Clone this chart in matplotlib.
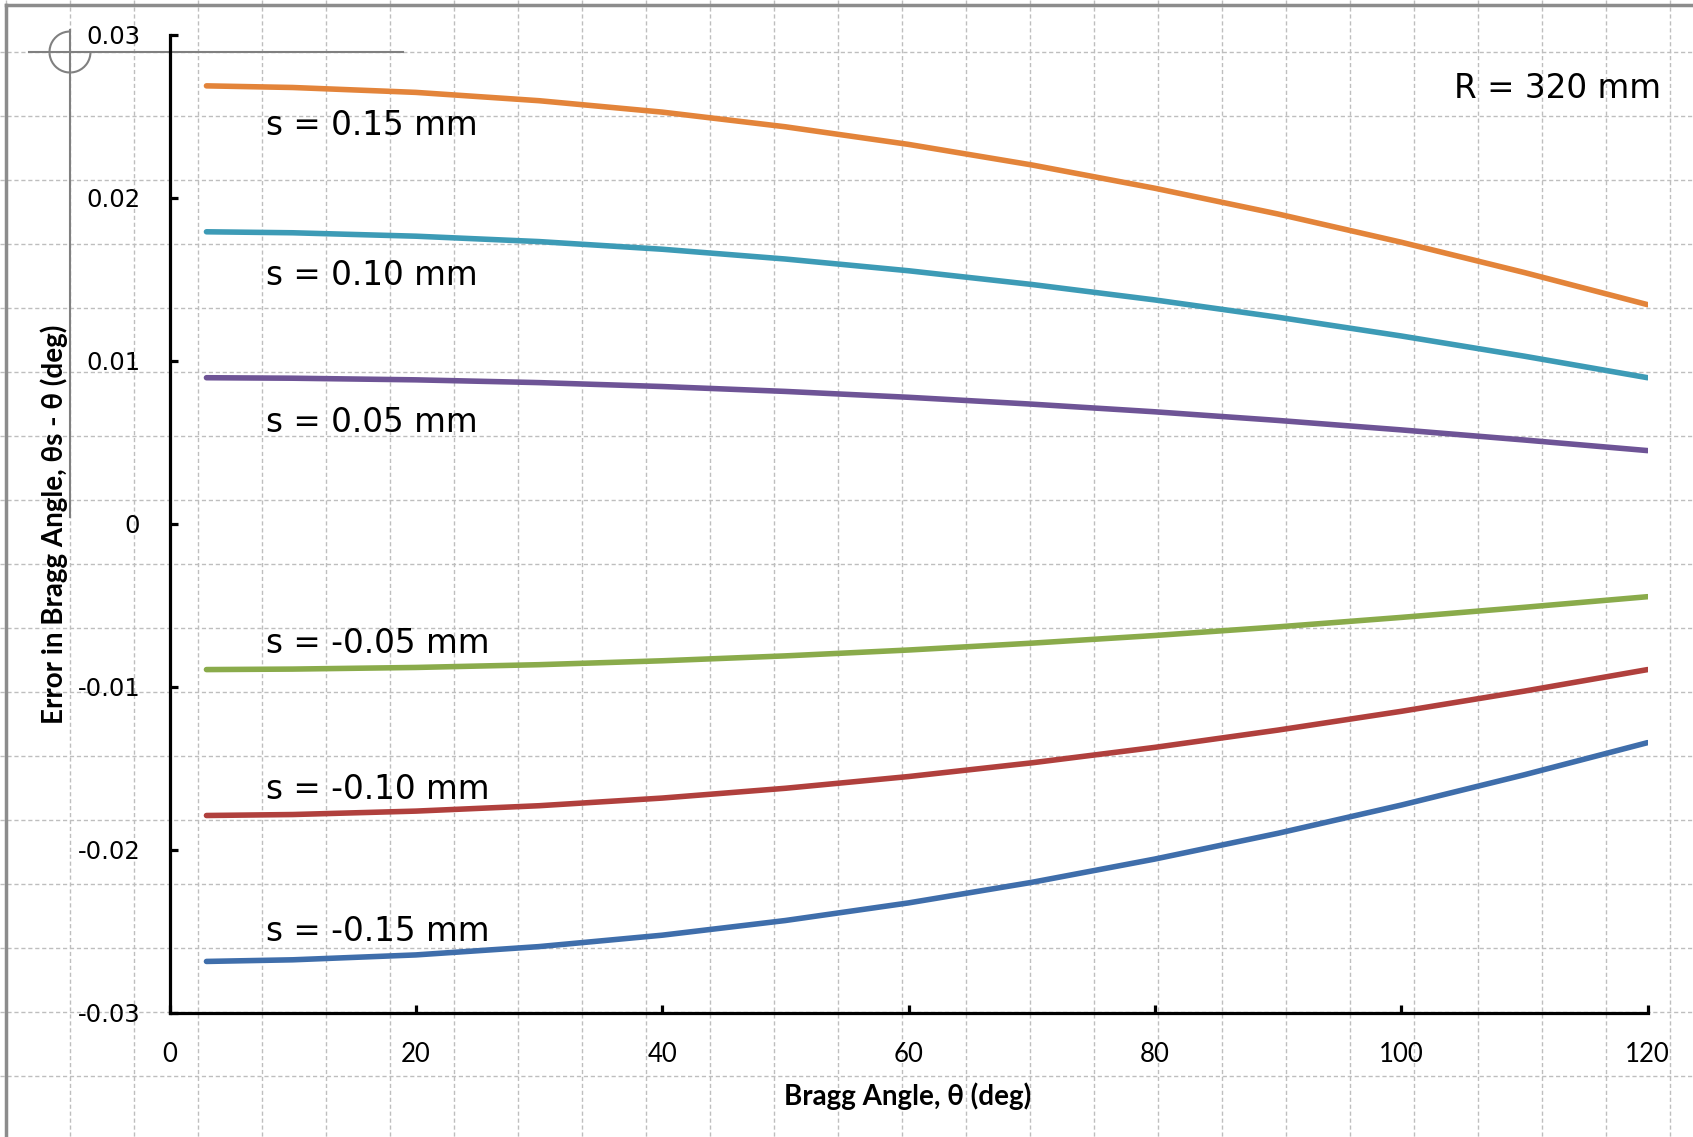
import matplotlib
matplotlib.use("Agg")
import matplotlib.pyplot as plt
from matplotlib.patches import Arc
import numpy as np

# Bragg angle (deg) and error in Bragg angle (deg) for each offset s
theta = [3, 10, 20, 30, 40, 50, 60, 70, 80, 90, 100, 110, 120]
err_p015 = [0.02685, 0.02675, 0.02645, 0.02594, 0.02524, 0.02434, 0.02326,
            0.02200, 0.02057, 0.01899, 0.01726, 0.01540, 0.01343]
err_p010 = [0.01790, 0.01784, 0.01763, 0.01730, 0.01683, 0.01623, 0.01551,
            0.01467, 0.01372, 0.01266, 0.01151, 0.01027, 0.00895]
err_p005 = [0.00895, 0.00892, 0.00882, 0.00865, 0.00841, 0.00811, 0.00775,
            0.00733, 0.00686, 0.00633, 0.00575, 0.00513, 0.00448]
err_m005 = [-0.00895, -0.00892, -0.00882, -0.00865, -0.00841, -0.00811, -0.00775,
            -0.00733, -0.00686, -0.00633, -0.00575, -0.00513, -0.00448]
err_m010 = [-0.01790, -0.01784, -0.01763, -0.01730, -0.01683, -0.01623, -0.01551,
            -0.01467, -0.01372, -0.01266, -0.01151, -0.01027, -0.00895]
err_m015 = [-0.02685, -0.02675, -0.02645, -0.02594, -0.02524, -0.02434, -0.02326,
            -0.02200, -0.02057, -0.01899, -0.01726, -0.01540, -0.01343]

labels = ["s = 0.15 mm", "s = 0.10 mm", "s = 0.05 mm",
          "s = -0.05 mm", "s = -0.10 mm", "s = -0.15 mm"]
label_y = [0.02444, 0.01523, 0.00622, -0.00735, -0.01629, -0.02503]
x_ticks = [0, 20, 40, 60, 80, 100, 120]
y_ticks = [-0.03, -0.02, -0.01, 0, 0.01, 0.02, 0.03]
y_ticklabels = ["-0.03", "-0.02", "-0.01", "0", "0.01", "0.02", "0.03"]

series = [err_p015, err_p010, err_p005, err_m005, err_m010, err_m015]
colors = ["#E3843A", "#3D9BB6", "#6E5496", "#8AAB4B", "#B0403D", "#3F6EAB"]

W, H = 1693, 1137
fig = plt.figure(figsize=(W / 100, H / 100), dpi=100)

# sheet background: dashed cell grid, border and the little crosshair
bg = fig.add_axes([0, 0, 1, 1], zorder=0)
bg.set_xlim(0, W)
bg.set_ylim(H, 0)
bg.axis("off")
for gx in np.arange(70 - 64, W, 64):
    bg.plot([gx, gx], [0, H], color="#BEBEBE", lw=1, ls=(0, (3, 2)))
for gy in np.arange(52, H, 64):
    bg.plot([0, W], [gy, gy], color="#BEBEBE", lw=1, ls=(0, (3, 2)))
bg.plot([6, 6], [5, H], color="#8C8C8C", lw=2.5)
bg.plot([6, W], [5, 5], color="#8C8C8C", lw=2.5)
bg.plot([29, 403], [52, 52], color="#808080", lw=1.5)
bg.plot([70, 70], [30, 517], color="#808080", lw=1.5)
bg.add_patch(Arc((70, 52), 41, 41, theta1=0, theta2=270, color="#808080", lw=1.5))

ax = fig.add_axes([169.5 / W, 1 - 1012.8 / H, (1647.6 - 169.5) / W, (1012.8 - 34.5) / H],
                  zorder=1)
ax.patch.set_alpha(0)

for y, c in zip(series, colors):
    ax.plot(theta, y, color=c, lw=4, solid_capstyle="round")

for lab, ly in zip(labels, label_y):
    ax.text(7.8, ly, lab, fontsize=23.5, family="DejaVu Sans", va="center", ha="left")

ax.text(1.009, 0.945, "R = 320 mm", transform=ax.transAxes, fontsize=23.5,
        family="DejaVu Sans", ha="right", va="center")

ax.set_xlim(0, 120)
ax.set_ylim(-0.03, 0.03)
ax.set_xticks(x_ticks)
ax.set_xticklabels([str(t) for t in x_ticks], family="Lato", fontsize=18.5)
ax.set_yticks(y_ticks)
ax.set_yticklabels(y_ticklabels, family="DejaVu Sans", fontsize=17.5)

for side in ["top", "right"]:
    ax.spines[side].set_visible(False)
for side in ["left", "bottom"]:
    ax.spines[side].set_linewidth(2.3)
ax.tick_params(axis="both", direction="in", length=6, width=2.3)
ax.tick_params(axis="x", pad=21)
ax.tick_params(axis="y", pad=21)

fig.text(908 / W, 1 - 1096 / H, "Bragg Angle, \u03b8 (deg)", family="Lato",
         fontweight="bold", fontsize=20, ha="center", va="center")
fig.text(54 / W, 1 - 524 / H, "Error in Bragg Angle, \u03b8s - \u03b8 (deg)", family="Lato",
         fontweight="bold", fontsize=20, ha="center", va="center", rotation=90)

fig.savefig("out.png", dpi=100)
